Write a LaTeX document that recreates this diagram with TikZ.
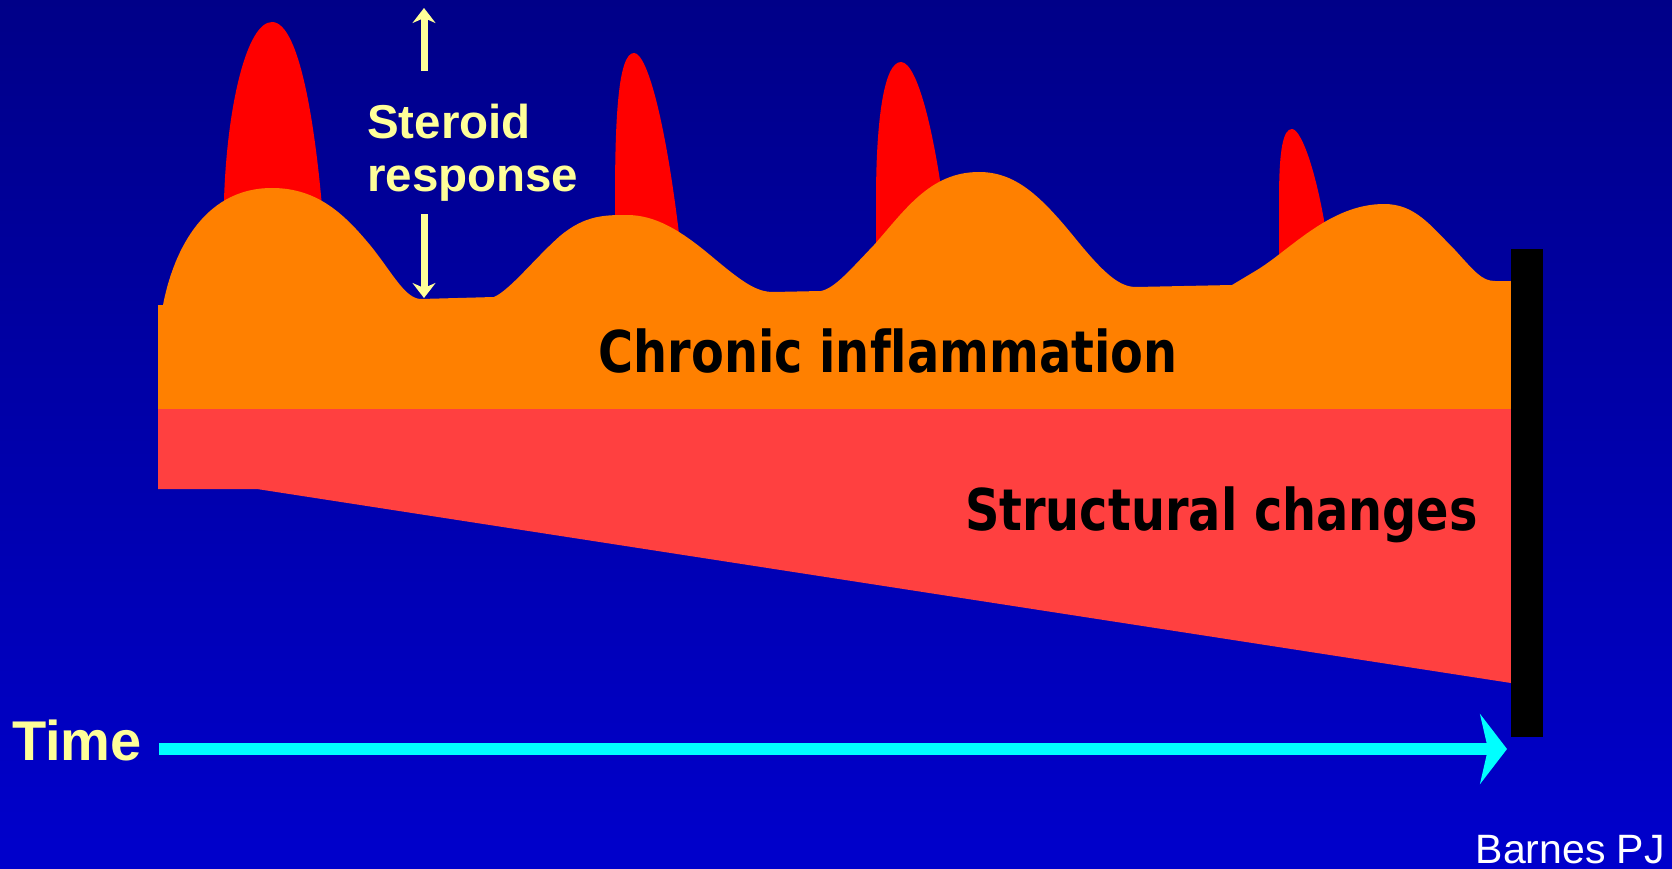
\documentclass[tikz,border=0pt]{standalone}
\usepackage{fontspec}
\setmainfont{Liberation Sans}
\newfontfamily\bandfont{DejaVu Sans}[FakeStretch=0.83,Ligatures=NoCommon]
\usetikzlibrary{arrows.meta}
\definecolor{bgtop}{RGB}{0,0,136}
\definecolor{bgbottom}{RGB}{0,0,204}
\definecolor{flare}{RGB}{255,0,0}
\definecolor{inflam}{RGB}{255,128,0}
\definecolor{remodel}{RGB}{255,64,64}
\definecolor{pale}{RGB}{255,255,153}
\definecolor{timeline}{RGB}{0,255,255}

\begin{document}
\begin{tikzpicture}[x=1pt, y=-1pt,
    layer/.style={inner sep=0pt, font=\bandfont\bfseries\fontsize{57.6}{60}\selectfont},
    paletext/.style={text=pale, inner sep=0pt, font=\bfseries\fontsize{47.5}{53}\selectfont},
    steroidarrow/.style={draw=pale, line width=7pt, -{Stealth[length=15pt,width=23pt,inset=5pt]}},
    timearrow/.style={draw=timeline, line width=12pt, -{Stealth[length=27pt,width=70pt,inset=8pt]}}]

    \useasboundingbox (0,0) rectangle (1672,869);
    \shade[top color=bgtop, bottom color=bgbottom] (0,0) rectangle (1672,869);

    % exacerbations
    \fill[flare] (224,260) -- (224,200) .. controls (227,105) and (247,22) .. (272,22)
        .. controls (300,22) and (318,130) .. (326,260) -- cycle;
    \fill[flare] (615,260) -- (615,200) .. controls (615,120) and (618,53) .. (634,53)
        .. controls (648,53) and (668,130) .. (682,260) -- cycle;
    \fill[flare] (876,260) -- (876,200) .. controls (876,120) and (884,62) .. (901,62)
        .. controls (918,62) and (938,140) .. (950,260) -- cycle;
    \fill[flare] (1279,290) -- (1279,200) .. controls (1279,150) and (1283,129) .. (1292,129)
        .. controls (1302,129) and (1320,180) .. (1330,260) -- cycle;

    % chronic inflammation
    \fill[inflam] (158,409) -- (158,305) -- (163,305)
        .. controls (172,258) and (200,188) .. (272,188)
        .. controls (318,188) and (345,215) .. (370,245)
        .. controls (392,272) and (405,299) .. (421,299) -- (494,297)
        .. controls (510,290) and (535,258) .. (560,236)
        .. controls (585,215) and (605,215) .. (627,215)
        .. controls (655,215) and (680,230) .. (710,255)
        .. controls (740,280) and (755,292) .. (773,292) -- (821,291)
        .. controls (835,288) and (850,270) .. (874,245)
        .. controls (905,210) and (930,172) .. (979,172)
        .. controls (1015,172) and (1040,195) .. (1075,238)
        .. controls (1105,275) and (1120,287) .. (1136,287) -- (1232,285) -- (1257,270)
        .. controls (1290,250) and (1330,204) .. (1384,204)
        .. controls (1415,204) and (1430,225) .. (1455,250)
        .. controls (1475,272) and (1482,281) .. (1495,281) -- (1511,281) -- (1511,409) -- cycle;

    % structural changes
    \fill[remodel] (158,409) -- (1511,409) -- (1511,683) -- (257,489) -- (158,489) -- cycle;
    \fill[black] (1511,249) rectangle (1543,737);

    \node[layer, anchor=base] (chronic) at (888,372) {Chronic inflammation};
    \node[layer, anchor=base east] (structural) at (1478,530) {Structural changes};
    \node[paletext, align=left, anchor=north west] (steroid) at (367,104) {Steroid\\response};
    \node[paletext, font=\bfseries\fontsize{56}{60}\selectfont, inner xsep=17pt, anchor=base east] (time) at (159,760) {Time};
    \node[text=white, inner sep=0pt, font=\fontsize{41}{44}\selectfont, anchor=base east] (author) at (1665,863) {Barnes PJ};

    \coordinate (uptail) at (424,71);
    \coordinate (uptip) at (424,8);
    \coordinate (downtail) at (424,214);
    \coordinate (valley) at (424,298);
    \coordinate (timeend) at (1507,749);

    \draw[steroidarrow] (uptail) -- (uptip);
    \draw[steroidarrow] (downtail) -- (valley);
    \draw[timearrow] (time.east |- timeend) -- (timeend);
\end{tikzpicture}
\end{document}
